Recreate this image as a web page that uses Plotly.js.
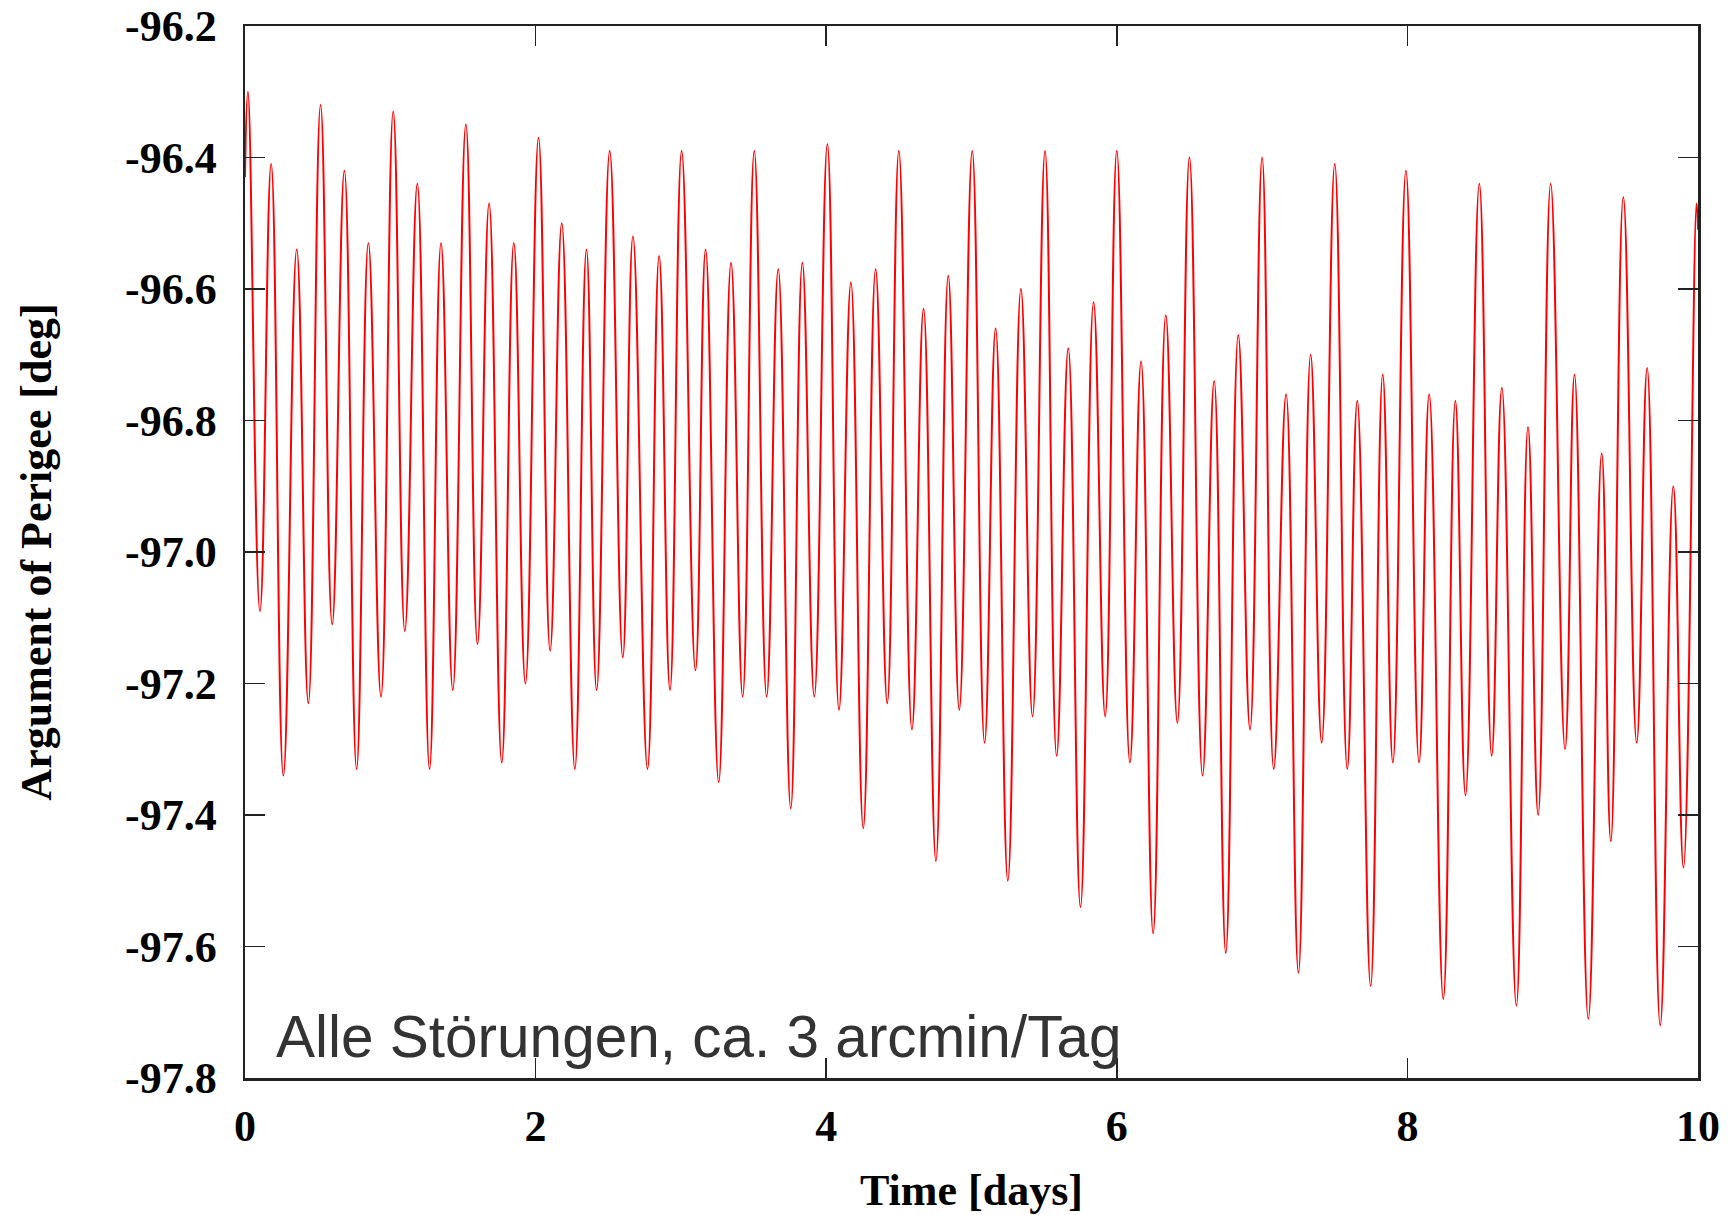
<!DOCTYPE html>
<html>
<head>
<meta charset="utf-8">
<script src="https://cdn.plot.ly/plotly-3.0.1.min.js"></script>
<style>
html,body{margin:0;padding:0;background:#fff;}
#chart{width:1731px;height:1215px;}
</style>
</head>
<body>
<div id="chart"></div>
<script>
// Time [days] of turning points (peaks / troughs)
const timeDays = [0, 0.02, 0.103, 0.18, 0.264, 0.356, 0.436, 0.52, 0.60, 0.684, 0.768, 0.849, 0.936,
  1.02, 1.10, 1.186, 1.27, 1.349, 1.43, 1.52, 1.60, 1.68, 1.767, 1.85, 1.93,
  2.02, 2.10, 2.18, 2.27, 2.35, 2.42, 2.51, 2.60, 2.67, 2.77, 2.85, 2.925,
  3.005, 3.10, 3.17, 3.26, 3.345, 3.425, 3.505, 3.59, 3.67, 3.756, 3.836, 3.918,
  4.008, 4.088, 4.17, 4.255, 4.34, 4.42, 4.50, 4.59, 4.67, 4.755, 4.84, 4.916,
  5.005, 5.09, 5.166, 5.25, 5.34, 5.42, 5.506, 5.586, 5.666, 5.75, 5.84, 5.92,
  6.0, 6.09, 6.167, 6.25, 6.337, 6.417, 6.50, 6.59, 6.67, 6.75, 6.836, 6.917,
  7.0, 7.08, 7.165, 7.25, 7.334, 7.41, 7.50, 7.586, 7.655, 7.747, 7.83, 7.90,
  7.99, 8.08, 8.15, 8.247, 8.33, 8.40, 8.495, 8.58, 8.65, 8.75, 8.83, 8.90,
  8.986, 9.085, 9.15, 9.245, 9.337, 9.40, 9.486, 9.578, 9.65, 9.74, 9.83, 9.90,
  9.99, 10.0];

// Argument of Perigee [deg]
const perigeeDeg = [-96.43, -96.30, -97.09, -96.41, -97.34, -96.54, -97.23, -96.32, -97.11, -96.42, -97.33, -96.53, -97.22,
  -96.33, -97.12, -96.44, -97.33, -96.53, -97.21, -96.35, -97.14, -96.47, -97.32, -96.53, -97.20,
  -96.37, -97.15, -96.50, -97.33, -96.54, -97.21, -96.39, -97.16, -96.52, -97.33, -96.55, -97.21,
  -96.39, -97.18, -96.54, -97.35, -96.56, -97.22, -96.39, -97.22, -96.57, -97.39, -96.56, -97.22,
  -96.38, -97.24, -96.59, -97.42, -96.57, -97.23, -96.39, -97.27, -96.63, -97.47, -96.58, -97.24,
  -96.39, -97.29, -96.66, -97.50, -96.60, -97.25, -96.39, -97.31, -96.69, -97.54, -96.62, -97.25,
  -96.39, -97.32, -96.71, -97.58, -96.64, -97.26, -96.40, -97.34, -96.74, -97.61, -96.67, -97.27,
  -96.40, -97.33, -96.76, -97.64, -96.70, -97.29, -96.41, -97.33, -96.77, -97.66, -96.73, -97.32,
  -96.42, -97.32, -96.76, -97.68, -96.77, -97.37, -96.44, -97.31, -96.75, -97.69, -96.81, -97.40,
  -96.44, -97.30, -96.73, -97.71, -96.85, -97.44, -96.46, -97.29, -96.72, -97.72, -96.90, -97.48,
  -96.47, -96.51];

const xTickVals = [0, 2, 4, 6, 8, 10];
const yTickVals = [-97.8, -97.6, -97.4, -97.2, -97.0, -96.8, -96.6, -96.4, -96.2];
const yTickText = ['-97.8', '-97.6', '-97.4', '-97.2', '-97.0', '-96.8', '-96.6', '-96.4', '-96.2'];
const xTitle = 'Time [days]';
const yTitle = 'Argument of Perigee [deg]';
const noteText = 'Alle Störungen, ca. 3 arcmin/Tag';

const serif = {family: '"Liberation Serif", "Times New Roman", serif', size: 44, color: '#000', weight: 'bold'};

const trace = {
  x: timeDays,
  y: perigeeDeg,
  type: 'scatter',
  mode: 'lines',
  line: {color: '#ff0000', width: 2, shape: 'spline', smoothing: 1.3},
  hoverinfo: 'x+y'
};

const layout = {
  width: 1731,
  height: 1215,
  margin: {l: 245, r: 33, t: 26, b: 137},
  paper_bgcolor: '#ffffff',
  plot_bgcolor: '#ffffff',
  showlegend: false,
  xaxis: {
    range: [0, 10],
    tickvals: xTickVals,
    ticktext: xTickVals.map(String),
    ticks: 'inside',
    ticklen: 20,
    tickwidth: 1.5,
    tickcolor: '#222',
    showline: true,
    linecolor: '#222',
    linewidth: 2.5,
    mirror: 'ticks',
    showgrid: false,
    zeroline: false,
    tickfont: serif,
    ticklabelstandoff: 8,
    title: {text: xTitle, font: serif, standoff: 26}
  },
  yaxis: {
    range: [-97.8, -96.2],
    tickvals: yTickVals,
    ticktext: yTickText,
    ticks: 'inside',
    ticklen: 20,
    tickwidth: 1.5,
    tickcolor: '#222',
    showline: true,
    linecolor: '#222',
    linewidth: 2.5,
    mirror: 'ticks',
    showgrid: false,
    zeroline: false,
    tickfont: serif,
    ticklabelstandoff: 17,
    title: {text: yTitle, font: serif, standoff: 60}
  },
  annotations: [{
    text: noteText,
    xref: 'paper', yref: 'paper',
    x: 0.02, y: 0.039,
    xanchor: 'left', yanchor: 'middle',
    showarrow: false,
    font: {family: '"Liberation Sans", Arial, sans-serif', size: 58.5, color: '#333333'}
  }]
};

Plotly.newPlot('chart', [trace], layout, {displayModeBar: false, staticPlot: true});
</script>
</body>
</html>
